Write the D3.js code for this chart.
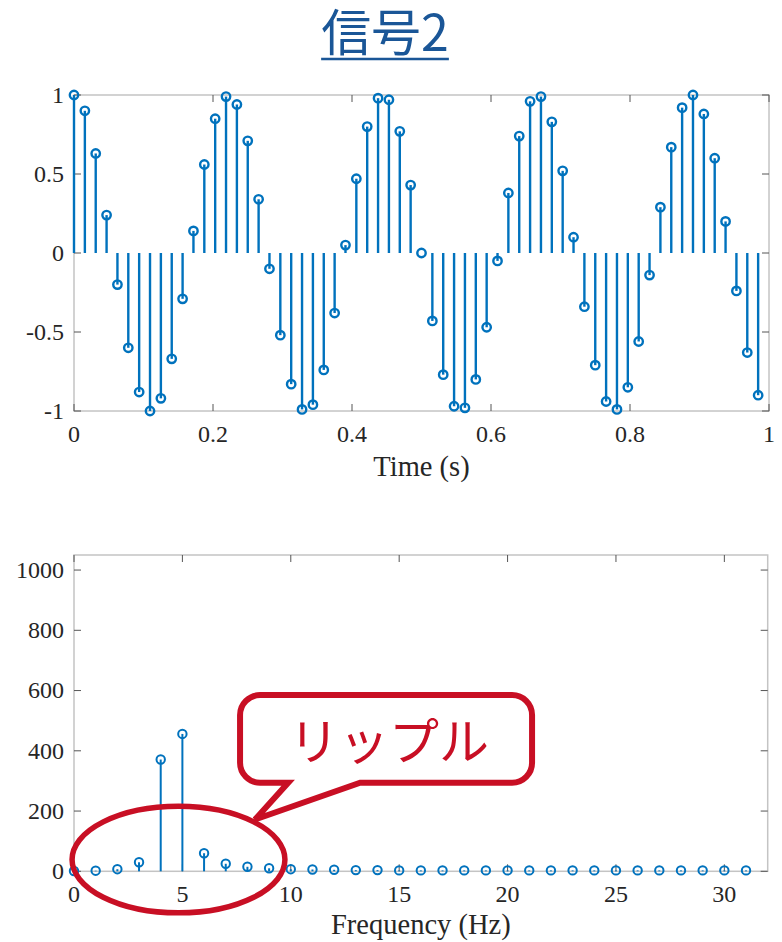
<!DOCTYPE html>
<html>
<head>
<meta charset="utf-8">
<script src="https://cdn.jsdelivr.net/npm/d3@7"></script>
<style>
  html, body { margin: 0; padding: 0; background: #fff; }
  svg { display: block; }
</style>
</head>
<body>
<svg id="chart" width="782" height="942"></svg>
<script>
// ---- data ----
const titleText = "信号2";

// time-domain samples (64 samples over 1 s)
const sampleTimes = d3.range(64).map(i => i / 64);
const signalValues = [
  1.00, 0.90, 0.63, 0.24, -0.20, -0.60, -0.88, -1.00,
  -0.92, -0.67, -0.29, 0.14, 0.56, 0.85, 0.99, 0.94,
  0.71, 0.34, -0.10, -0.52, -0.83, -0.99, -0.96, -0.74,
  -0.38, 0.05, 0.47, 0.80, 0.98, 0.97, 0.77, 0.43,
  0.00, -0.43, -0.77, -0.97, -0.98, -0.80, -0.47, -0.05,
  0.38, 0.74, 0.96, 0.99, 0.83, 0.52, 0.10, -0.34,
  -0.71, -0.94, -0.99, -0.85, -0.56, -0.14, 0.29, 0.67,
  0.92, 1.00, 0.88, 0.60, 0.20, -0.24, -0.63, -0.90
];
const timeTicks = [0, 0.2, 0.4, 0.6, 0.8, 1];
const timeTickLabels = ["0", "0.2", "0.4", "0.6", "0.8", "1"];
const ampTicks = [-1, -0.5, 0, 0.5, 1];
const ampTickLabels = ["-1", "-0.5", "0", "0.5", "1"];

// magnitude spectrum, bins 0..31 Hz
const freqBins = d3.range(32);
const spectrumValues = [
  1, 2, 7, 30, 371, 456, 60, 25,
  15, 10, 7, 6, 5, 4, 4, 3,
  3, 3, 3, 3, 3, 3, 3, 3,
  3, 3, 3, 3, 3, 3, 3, 3
];
const freqTicks = [0, 5, 10, 15, 20, 25, 30];
const magTicks = [0, 200, 400, 600, 800, 1000];

const timeLabel = "Time (s)";
const freqLabel = "Frequency (Hz)";
const calloutText = "リップル";

// ---- style ----
const stemColor = "#0072bd";
const redColor = "#c80f24";
const boxColor = "#c4c4c4";
const tickColor = "#555";
const textColor = "#262626";
const serif = "'Liberation Serif', 'Times New Roman', serif";
const cjk = "'Noto Sans CJK JP', 'Noto Sans CJK SC', sans-serif";

const svg = d3.select("#chart");

// ---- title ----
const title = svg.append("text")
  .attr("x", 385).attr("y", 51)
  .attr("text-anchor", "middle")
  .attr("font-family", cjk)
  .attr("font-weight", 400)
  .attr("font-size", 50)
  .attr("fill", "#1a5697")
  .text(titleText);
const tw = title.node().getComputedTextLength();
svg.append("line")
  .attr("x1", 385 - tw / 2).attr("x2", 385 + tw / 2)
  .attr("y1", 59).attr("y2", 59)
  .attr("stroke", "#1a5697").attr("stroke-width", 2.5);

// ---- generic framed axes helper ----
function frame(g, x, y, xTicks, xLabels, yTicks, yLabels, xTitle, xTitleY) {
  const [x0, x1] = x.range();
  const [y0, y1] = y.range(); // y0 bottom, y1 top
  const tl = 7;
  // box
  g.append("rect")
    .attr("x", x0).attr("y", y1)
    .attr("width", x1 - x0).attr("height", y0 - y1)
    .attr("fill", "none").attr("stroke", boxColor).attr("stroke-width", 1.5);
  // inward ticks on all four sides
  xTicks.forEach(t => {
    const px = x(t);
    g.append("line").attr("x1", px).attr("x2", px).attr("y1", y0).attr("y2", y0 - tl)
      .attr("stroke", tickColor).attr("stroke-width", 1);
    g.append("line").attr("x1", px).attr("x2", px).attr("y1", y1).attr("y2", y1 + tl)
      .attr("stroke", tickColor).attr("stroke-width", 1);
  });
  yTicks.forEach(t => {
    const py = y(t);
    g.append("line").attr("x1", x0).attr("x2", x0 + tl).attr("y1", py).attr("y2", py)
      .attr("stroke", tickColor).attr("stroke-width", 1);
    g.append("line").attr("x1", x1).attr("x2", x1 - tl).attr("y1", py).attr("y2", py)
      .attr("stroke", tickColor).attr("stroke-width", 1);
  });
  // tick labels
  g.selectAll(null).data(xTicks).join("text")
    .attr("x", d => x(d)).attr("y", y0 + 31)
    .attr("text-anchor", "middle")
    .attr("font-family", serif).attr("font-size", 24).attr("fill", textColor)
    .text((d, i) => xLabels[i]);
  g.selectAll(null).data(yTicks).join("text")
    .attr("x", x0 - 10).attr("y", d => y(d))
    .attr("dy", "0.33em")
    .attr("text-anchor", "end")
    .attr("font-family", serif).attr("font-size", 24).attr("fill", textColor)
    .text((d, i) => yLabels[i]);
  g.append("text")
    .attr("x", (x0 + x1) / 2).attr("y", xTitleY)
    .attr("text-anchor", "middle")
    .attr("font-family", serif).attr("font-size", 28.5).attr("fill", textColor)
    .text(xTitle);
}

function stems(g, xs, ys, x, y, base, sw, r) {
  const pts = xs.map((d, i) => [d, ys[i]]);
  g.selectAll(null).data(pts).join("line")
    .attr("x1", d => x(d[0])).attr("x2", d => x(d[0]))
    .attr("y1", y(base)).attr("y2", d => y(d[1]))
    .attr("stroke", stemColor).attr("stroke-width", sw);
  g.selectAll(null).data(pts).join("circle")
    .attr("cx", d => x(d[0])).attr("cy", d => y(d[1]))
    .attr("r", r)
    .attr("fill", "none").attr("stroke", stemColor).attr("stroke-width", sw);
}

// ---- top: time-domain signal ----
const xT = d3.scaleLinear().domain([0, 1]).range([74, 769]);
const yT = d3.scaleLinear().domain([-1, 1]).range([411, 95]);
const gTop = svg.append("g");
frame(gTop, xT, yT, timeTicks, timeTickLabels, ampTicks, ampTickLabels, timeLabel, 476);
stems(gTop, sampleTimes, signalValues, xT, yT, 0, 2.4, 4.2);

// ---- bottom: spectrum ----
const xF = d3.scaleLinear().domain([0, 32]).range([74, 767.7]);
const yF = d3.scaleLinear().domain([0, 1050]).range([871.3, 555]);
const gBot = svg.append("g");
frame(gBot, xF, yF, freqTicks, freqTicks.map(String), magTicks, magTicks.map(String), freqLabel, 934);
stems(gBot, freqBins, spectrumValues, xF, yF, 0, 2, 4.2);

// ---- annotation: ellipse around the low-frequency ripple ----
const ring = { cx: 4.82, cy: 39, rx: 4.91, ry: 177 };
gBot.append("ellipse")
  .attr("cx", xF(ring.cx)).attr("cy", yF(ring.cy))
  .attr("rx", xF(ring.rx) - xF(0)).attr("ry", yF(0) - yF(ring.ry))
  .attr("fill", "none").attr("stroke", redColor).attr("stroke-width", 5.5);

// ---- annotation: speech-bubble callout ----
const bubble = { x0: 7.66, x1: 21.13, yTop: 585, yBot: 294, tipX: 8.35, tipY: 172, baseL: 9.88, baseR: 13.2 };
{
  const L = xF(bubble.x0), R = xF(bubble.x1), T = yF(bubble.yTop), B = yF(bubble.yBot);
  const rr = 20;
  const bl = xF(bubble.baseL), br = xF(bubble.baseR);
  const tx = xF(bubble.tipX), ty = yF(bubble.tipY);
  const p = d3.path();
  p.moveTo(L + rr, T);
  p.lineTo(R - rr, T);
  p.arcTo(R, T, R, T + rr, rr);
  p.lineTo(R, B - rr);
  p.arcTo(R, B, R - rr, B, rr);
  p.lineTo(br, B);
  p.lineTo(tx, ty);
  p.lineTo(bl, B);
  p.lineTo(L + rr, B);
  p.arcTo(L, B, L, B - rr, rr);
  p.lineTo(L, T + rr);
  p.arcTo(L, T, L + rr, T, rr);
  p.closePath();
  gBot.append("path")
    .attr("d", p.toString())
    .attr("fill", "#fff")
    .attr("stroke", redColor).attr("stroke-width", 6)
    .attr("stroke-linejoin", "miter");
  gBot.append("text")
    .attr("x", (L + R) / 2 + 3).attr("y", B - 23)
    .attr("text-anchor", "middle")
    .attr("font-family", cjk).attr("font-weight", 400)
    .attr("font-size", 50).attr("fill", redColor)
    .text(calloutText);
}
</script>
</body>
</html>
